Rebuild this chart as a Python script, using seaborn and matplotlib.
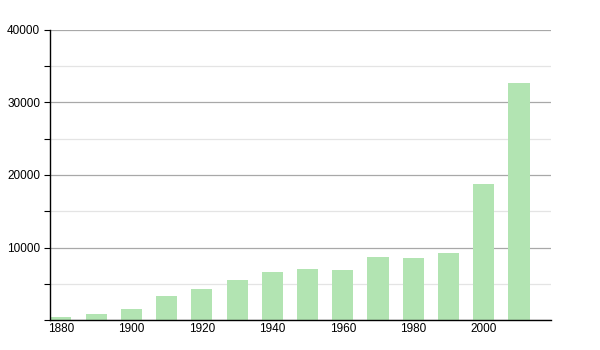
import matplotlib
matplotlib.use("Agg")
import matplotlib.pyplot as plt
import seaborn as sns
import pandas as pd
from matplotlib.ticker import MultipleLocator

years = [1880, 1890, 1900, 1910, 1920, 1930, 1940, 1950, 1960, 1970, 1980, 1990, 2000, 2010]
population = [460, 870, 1560, 3360, 4320, 5560, 6670, 7080, 6940, 8740, 8600, 9290, 18800, 32740]
x_ticks = [1880, 1900, 1920, 1940, 1960, 1980, 2000]
y_ticks = [0, 10000, 20000, 30000, 40000]

sns.set_theme(style="white")
plt.rcParams['font.family'] = ['Liberation Sans', 'DejaVu Sans']

df = pd.DataFrame({"year": years, "pop": population})

fig = plt.figure(figsize=(6, 3.5), dpi=100)
ax = fig.add_axes([50/600, 30/350, 501/600, 290/350])

sns.barplot(data=df, x="year", y="pop", native_scale=True, width=0.6,
            color="#b2e4b2", saturation=1, edgecolor="none", ax=ax)

ax.set_xlim(1876.9, 2019.1)
ax.set_ylim(0, 40000)
ax.set_xticks(x_ticks)
ax.set_xticklabels([str(t) for t in x_ticks])
ax.set_yticks(y_ticks)
ax.set_yticklabels(["" if t == 0 else str(t) for t in y_ticks])
ax.yaxis.set_minor_locator(MultipleLocator(5000))

ax.set_axisbelow(True)
ax.grid(axis="y", which="major", color="#a8a8a8", linewidth=0.9)
ax.grid(axis="y", which="minor", color="#e4e4e4", linewidth=0.9)
ax.grid(axis="x", visible=False)

for s in ["top", "right"]:
    ax.spines[s].set_visible(False)
for s in ["left", "bottom"]:
    ax.spines[s].set_color("black")
    ax.spines[s].set_linewidth(1.0)

ax.tick_params(axis="y", which="major", length=4, width=0.8, color="black",
               labelsize=8.5, labelcolor="black", pad=3, left=True, direction="out")
ax.tick_params(axis="y", which="minor", length=4, width=0.8, color="black", left=True, direction="out")
ax.tick_params(axis="x", which="both", length=0, labelsize=8.5, labelcolor="black", pad=2)

ax.set_xlabel("")
ax.set_ylabel("")

fig.savefig("out.png", dpi=100)
